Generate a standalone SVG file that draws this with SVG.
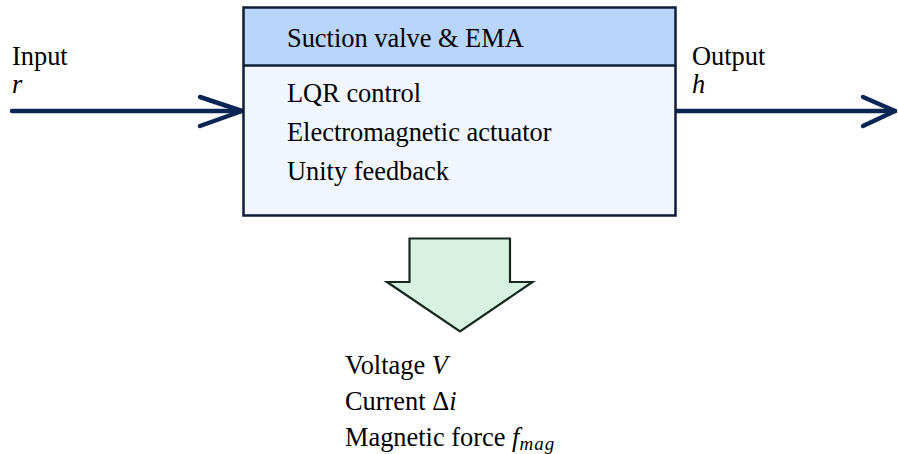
<svg xmlns="http://www.w3.org/2000/svg" width="898" height="454" viewBox="0 0 898 454" font-family="'Liberation Serif', 'DejaVu Serif', serif">
<style>
text{font-family:'Liberation Serif','DejaVu Serif',serif;font-size:26.4px;fill:#000}
.m{font-style:italic}
.conn{stroke:#0b2655;stroke-width:4.5;fill:none;stroke-linecap:round;stroke-linejoin:round}
</style>
<rect width="898" height="454" fill="#fff"/>
<g id="connectors">
<path class="conn" d="M12 111 H242"/>
<path class="conn" d="M200 97 L242 111 L200 126"/>
<path class="conn" d="M676 111 H895"/>
<path class="conn" d="M863 97 L895 111 L863 126"/>
</g>
<g id="input">
<text x="12" y="65">Input</text>
<text x="12" y="93" class="m">r</text>
</g>
<g id="output">
<text x="692" y="65">Output</text>
<text x="692" y="93" class="m">h</text>
</g>
<g id="block">
<rect x="243.5" y="7.5" width="432" height="208" fill="#f1f6fe"/>
<rect x="243.5" y="7.5" width="432" height="58" fill="#b9d5fc"/>
<line x1="243.5" y1="65.5" x2="675.5" y2="65.5" stroke="#0f1d36" stroke-width="2.5"/>
<rect x="243.5" y="7.5" width="432" height="208" fill="none" stroke="#0f1d36" stroke-width="2.5"/>
<text x="287" y="47">Suction valve &amp; EMA</text>
<text x="287" y="102">LQR control</text>
<text x="287" y="141">Electromagnetic actuator</text>
<text x="287" y="180">Unity feedback</text>
</g>
<g id="down-arrow">
<path d="M409.5 238.5 H510 V282 H532.5 L460 331.5 L387 282 H409.5 Z" fill="#d7f2e1" stroke="#152a1c" stroke-width="2.2" stroke-linejoin="miter"/>
</g>
<g id="outputs">
<text x="345" y="374">Voltage <tspan class="m">V</tspan></text>
<text x="345" y="410">Current Δ<tspan class="m">i</tspan></text>
<text x="345" y="446">Magnetic force <tspan class="m">f</tspan><tspan class="m" font-size="19" dy="4" letter-spacing="1">mag</tspan></text>
</g>
</svg>
